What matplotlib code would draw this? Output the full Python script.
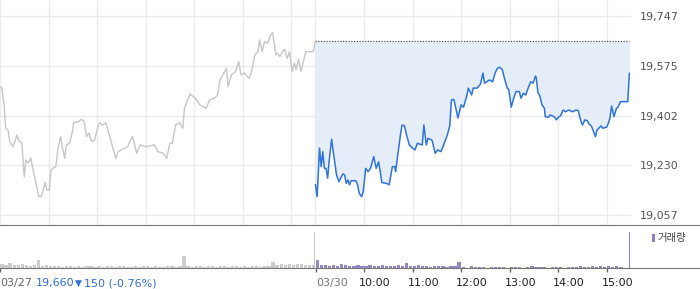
# 코스피200 선물 일중 차트 (03/27 ~ 03/30)

# --------------------------------------------
# 임포트
# --------------------------------------------

import numpy as np
import matplotlib
matplotlib.use("Agg")
from matplotlib import pyplot as plt
from matplotlib import transforms
from matplotlib.patches import Rectangle

# 한글 폰트 (숫자는 DejaVu, 한글은 Noto)
plt.rcParams['font.family'] = ['DejaVu Sans', 'Noto Sans CJK KR']

# --------------------------------------------
# 데이터
# --------------------------------------------

# 전일(03/27) 체결가 : 장 시작 후 경과 분, 가격
prev_t = [0, 2, 5, 7, 10, 12, 16, 19, 21, 23,
          27, 30, 32, 35, 38, 41, 44, 48, 51, 56,
          58, 61, 63, 66, 69, 72, 75, 77, 80, 82,
          86, 90, 91, 97, 101, 104, 107, 110, 113, 117,
          121, 123, 127, 131, 134, 138, 143, 146, 150, 154,
          158, 161, 164, 167, 169, 173, 181, 191, 195, 202,
          206, 210, 213, 217, 222, 226, 228, 231, 235, 239,
          243, 247, 251, 255, 259, 265, 269, 272, 276, 280,
          282, 286, 290, 292, 295, 298, 302, 308, 311, 315,
          319, 321, 324, 327, 331, 334, 337, 341, 343, 346,
          349, 352, 355, 358, 361, 364, 366, 369, 372, 374,
          378, 387, 390]
prev_p = [19500, 19500, 19439, 19359, 19352, 19312, 19294, 19317, 19335, 19317,
          19307, 19190, 19248, 19238, 19255, 19213, 19173, 19121, 19121, 19170,
          19144, 19144, 19213, 19220, 19225, 19294, 19329, 19294, 19254, 19300,
          19306, 19352, 19377, 19381, 19389, 19381, 19329, 19341, 19312, 19317,
          19364, 19377, 19369, 19377, 19346, 19306, 19254, 19277, 19283, 19289,
          19294, 19317, 19329, 19294, 19271, 19300, 19294, 19300, 19277, 19271,
          19254, 19306, 19306, 19369, 19377, 19358, 19427, 19450, 19477, 19467,
          19456, 19439, 19433, 19427, 19456, 19462, 19473, 19525, 19546, 19566,
          19502, 19543, 19551, 19560, 19589, 19543, 19549, 19531, 19554, 19612,
          19623, 19664, 19623, 19658, 19652, 19678, 19689, 19612, 19618, 19606,
          19623, 19632, 19600, 19623, 19554, 19583, 19560, 19597, 19554, 19577,
          19623, 19623, 19660]

# 당일(03/30) 체결가
today_t = [0, 2, 5, 7, 9, 11, 13, 15, 17, 20,
           22, 26, 29, 32, 34, 36, 38, 40, 42, 44,
           50, 52, 54, 57, 59, 62, 65, 68, 72, 75,
           78, 80, 82, 88, 91, 95, 98, 99, 102, 105,
           107, 110, 112, 116, 120, 123, 126, 132, 134, 137,
           139, 144, 148, 151, 155, 158, 163, 166, 168, 171,
           174, 176, 180, 183, 187, 189, 193, 195, 200, 204,
           207, 209, 215, 219, 222, 225, 228, 231, 233, 237,
           239, 242, 245, 248, 252, 254, 257, 260, 262, 266,
           269, 272, 273, 275, 277, 280, 283, 284, 288, 290,
           295, 298, 300, 303, 306, 309, 313, 318, 322, 325,
           327, 330, 333, 336, 338, 341, 343, 346, 348, 353,
           355, 360, 362, 364, 366, 369, 372, 374, 377, 386,
           388]
today_p = [19162, 19121, 19289, 19225, 19277, 19219, 19219, 19185, 19248, 19320,
           19277, 19196, 19173, 19190, 19200, 19196, 19167, 19179, 19162, 19176,
           19176, 19162, 19133, 19121, 19138, 19219, 19208, 19219, 19260, 19219,
           19242, 19208, 19170, 19167, 19162, 19225, 19225, 19208, 19271, 19335,
           19369, 19366, 19341, 19300, 19289, 19283, 19306, 19300, 19369, 19300,
           19323, 19317, 19271, 19283, 19277, 19297, 19335, 19366, 19456, 19458,
           19421, 19393, 19439, 19431, 19470, 19497, 19473, 19497, 19497, 19511,
           19549, 19514, 19525, 19519, 19549, 19566, 19569, 19560, 19537, 19497,
           19491, 19431, 19462, 19485, 19485, 19462, 19479, 19473, 19491, 19519,
           19514, 19539, 19531, 19481, 19473, 19439, 19427, 19398, 19396, 19404,
           19398, 19387, 19396, 19401, 19421, 19415, 19421, 19415, 19421, 19419,
           19393, 19369, 19387, 19384, 19373, 19366, 19352, 19329, 19352, 19366,
           19358, 19362, 19375, 19393, 19435, 19398, 19427, 19431, 19450, 19450,
           19548]

# 전일 종가
prev_close = 19660

# 거래량 (5분 단위) 과 동시호가 거래량
prev_vol = [4, 3, 5, 3, 3, 4, 3, 2, 3, 8, 2, 3,
            2, 2, 2, 1, 2, 2, 1, 2, 1, 2, 2, 1,
            2, 1, 2, 2, 1, 2, 2, 1, 1, 2, 1, 2,
            2, 1, 2, 1, 1, 2, 2, 1, 2, 12,
            2, 1, 2, 2, 1, 2, 2, 1, 2, 2,
            1, 2, 2, 1, 2, 1, 2, 2, 1, 2, 2,
            6, 3, 4, 3, 4, 3, 4, 4, 3, 3, 3]
today_vol = [8, 3, 3, 2, 3, 2, 4, 3, 2, 2, 3, 2,
             2, 3, 2, 2, 3, 2, 2, 2, 3, 2, 5, 2,
             2, 3, 2, 2, 1, 2, 2, 2, 1, 2, 2, 6,
             1, 0, 2, 1, 1, 1, 0, 1, 1, 1, 1, 0,
             1, 1, 1, 0, 1, 2, 1, 1, 1, 0, 1, 1,
             1, 0, 1, 1, 1, 2, 1, 1, 2, 1, 2, 1,
             2, 1, 2, 1, 0]
prev_close_vol = 36
today_close_vol = 36

# 축 눈금
ytick_vals = [19057, 19229.5, 19402, 19574.5, 19747]
ytick_labels = ['19,057', '19,230', '19,402', '19,575', '19,747']
hour_labels = ['03/30', '10:00', '11:00', '12:00', '13:00', '14:00', '15:00']

# 하루 길이 (분)
day_len = 390

# --------------------------------------------
# 그림 작성
# --------------------------------------------

fig = plt.figure(figsize=(7.0, 2.89), dpi=100)

# 가격 차트 영역
ax = fig.add_axes([0, 0.2215, 0.9014, 0.7785])
# 거래량 영역 (가로 전체)
ax_vol = fig.add_axes([0, 21 / 289, 1, 43 / 289])

# 전일 가격선 (회색)
ax.plot(prev_t, prev_p, color='#c6c6ca', lw=1.0, zorder=3)

# 당일 가격선 (파랑) + 전일 종가까지 채우기
today_x = np.array(today_t) + day_len
ax.fill_between(today_x, today_p, prev_close, color='#e5edf9', lw=0, zorder=1)
ax.plot(today_x, today_p, color='#2f74dc', lw=1.1, zorder=4)

# 전일 종가 점선
ax.plot([day_len, today_x[-1]], [prev_close, prev_close],
        color='#555555', lw=0.9, ls=(0, (1, 1.2)), zorder=2)

# 그리드
grid_x = list(range(0, day_len, 60)) + [day_len + m for m in range(0, day_len, 60)]
ax.set_xticks(grid_x)
ax.set_yticks(ytick_vals)
ax.set_yticklabels(ytick_labels)
ax.grid(True, color='#ebebeb', lw=1.0, zorder=0)
ax.set_axisbelow(True)
ax.set_xlim(0, 2 * day_len)
ax.set_ylim(19023, 19802)
for s in ax.spines.values():
    s.set_visible(False)
ax.tick_params(axis='x', length=0, labelbottom=False)
ax.yaxis.tick_right()
ax.tick_params(axis='y', length=0, pad=6.5, labelsize=8, labelcolor='#555555')

# 거래량 막대
prev_bx = np.arange(len(prev_vol)) * 5 + 2.5
today_bx = np.arange(len(today_vol)) * 5 + 2.5 + day_len
ax_vol.bar(prev_bx, prev_vol, width=4.0, color='#cccccc', lw=0)
ax_vol.bar([day_len - 1], [prev_close_vol], width=1.0, color='#c8c8c8', lw=0)
ax_vol.bar(today_bx, today_vol, width=4.0, color='#9686cc', lw=0)
ax_vol.bar([day_len + 388], [today_close_vol], width=1.2, color='#8f7fca', lw=0)

ax_vol.set_xlim(0, 2 * day_len * 700 / 631)
ax_vol.set_ylim(0, 43)
ax_vol.set_yticks([])
ax_vol.set_xticks([0] + [day_len + m for m in range(0, day_len, 60)])
ax_vol.tick_params(axis='x', direction='out', length=3, width=1,
                   color='#666666', labelbottom=False)
ax_vol.spines['left'].set_visible(False)
ax_vol.spines['right'].set_visible(False)
ax_vol.spines['top'].set_color('#777777')
ax_vol.spines['bottom'].set_color('#777777')
ax_vol.patch.set_alpha(0)

# --------------------------------------------
# 하단 텍스트
# --------------------------------------------

label_y = 6 / 289
fig.text(0.0, label_y, '03/27', fontsize=8, color='#666666', va='center', ha='left')
fig.text(36 / 700, label_y, '19,660', fontsize=8, color='#2f6fd6', va='center', ha='left')
fig.text(75 / 700, label_y, '▼', fontsize=6.5, color='#2f6fd6', va='center', ha='left')
fig.text(84 / 700, label_y, '150 (-0.76%)', fontsize=8, color='#2f6fd6', va='center', ha='left')

# 시간 라벨
trans = transforms.blended_transform_factory(ax_vol.transData, fig.transFigure)
for i, lab in enumerate(hour_labels):
    if i == 0:
        tr = transforms.offset_copy(trans, fig=fig, x=1, y=0, units='dots')
        col = '#777777'
    else:
        tr = transforms.offset_copy(trans, fig=fig, x=-5, y=0, units='dots')
        col = '#222222'
    fig.text(day_len + i * 60, label_y, lab, transform=tr, fontsize=8,
             color=col, va='center', ha='left')

# 범례
fig.add_artist(Rectangle((652 / 700, 47 / 289), 3 / 700, 8 / 289,
                         transform=fig.transFigure, color='#8f7fca', lw=0))
fig.text(657 / 700, 51 / 289, '거래량', fontsize=7.5, color='#444444',
         va='center', ha='left')

# 저장
fig.savefig('out.png', dpi=100)
